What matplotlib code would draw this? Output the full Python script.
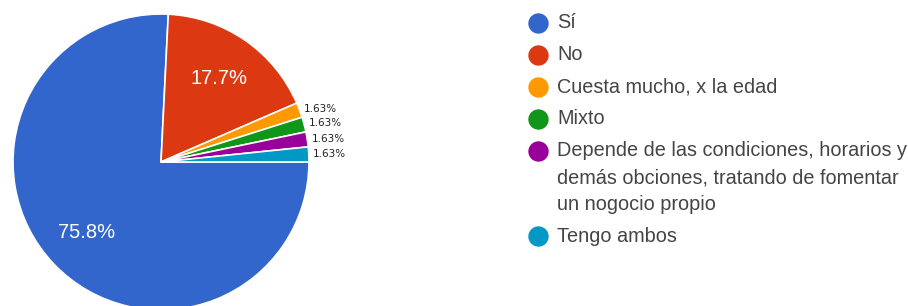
import numpy as np
import matplotlib
matplotlib.use("Agg")
import matplotlib.pyplot as plt

categories = [
    "Sí",
    "No",
    "Cuesta mucho, x la edad",
    "Mixto",
    "Depende de las condiciones, horarios y\ndemás obciones, tratando de fomentar\nun nogocio propio",
    "Tengo ambos",
]
shares = [75.8, 17.7, 1.63, 1.63, 1.63, 1.63]
colors = ["#3366cc", "#dc3912", "#ff9900", "#109618", "#990099", "#0099c6"]

W, H = 908, 306
fig = plt.figure(figsize=(W / 100, H / 100), dpi=100)

# pie: centre (161, 162) px from top-left, radius 148 px
cx, cy, r = 161, 162, 148
ax = fig.add_axes([(cx - r) / W, (H - cy - r) / H, 2 * r / W, 2 * r / H])
wedges, _ = ax.pie(
    shares,
    colors=colors,
    startangle=0,
    counterclock=False,
    radius=1,
    wedgeprops=dict(edgecolor="white", linewidth=1.2),
)
ax.set_xlim(-1, 1)
ax.set_ylim(-1, 1)
ax.set_aspect("equal")
ax.axis("off")

for w, v in zip(wedges, shares):
    mid = np.deg2rad((w.theta1 + w.theta2) / 2)
    label = f"{v}%"
    if v > 10:
        d = 0.69
        ax.text(d * np.cos(mid), d * np.sin(mid), label, color="white",
                fontsize=14.5, family="Liberation Sans", ha="center", va="center")
    else:
        d = 1.03
        ax.text(d * np.cos(mid), d * np.sin(mid), label, color="#222222",
                fontsize=7.5, family="DejaVu Sans", ha="left", va="center",
                clip_on=False)

# legend drawn in pixel coordinates so the handle sits on the first line
lax = fig.add_axes([0, 0, 1, 1])
lax.set_xlim(0, W)
lax.set_ylim(H, 0)
lax.axis("off")

row_h, line_h = 32, 26.5
y = 23
for name, c in zip(categories, colors):
    lax.scatter([538], [y], s=215, color=c, linewidths=0)
    lines = name.split("\n")
    for j, line in enumerate(lines):
        lax.text(557, y + j * line_h, line, fontsize=14.3, family="Liberation Sans",
                 color="#444444", ha="left", va="center")
    y += (len(lines) - 1) * line_h + row_h

fig.savefig("out.png", dpi=100)
